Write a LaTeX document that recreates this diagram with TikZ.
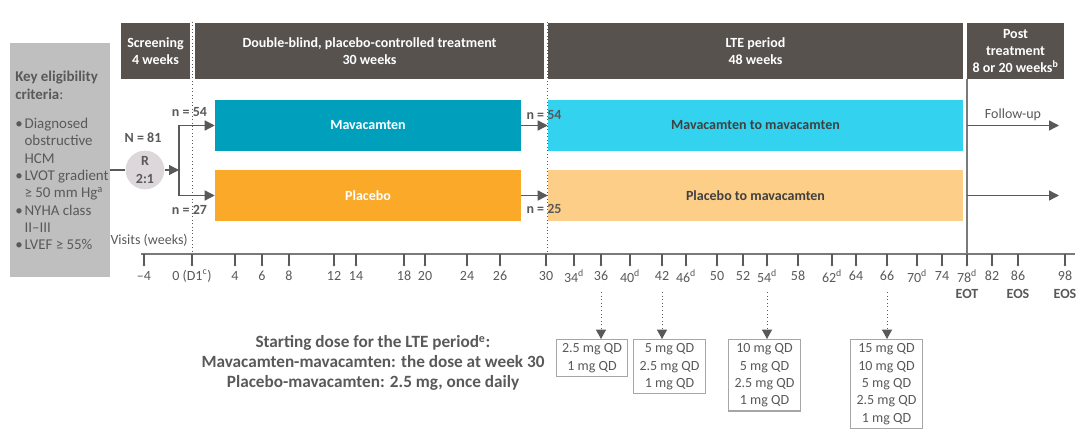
\documentclass[tikz,border=0pt]{standalone}
\usepackage{fontspec}
\setmainfont{Carlito}
\usetikzlibrary{positioning,arrows.meta}

\definecolor{headgrey}{HTML}{58524F}
\definecolor{eliggrey}{HTML}{BFBFBF}
\definecolor{txtgrey}{HTML}{595959}
\definecolor{linegrey}{HTML}{7A7A7A}
\definecolor{mavateal}{HTML}{00A0BD}
\definecolor{placorange}{HTML}{FBA928}
\definecolor{ltecyan}{HTML}{33D3EF}
\definecolor{lteorange}{HTML}{FDCE87}
\definecolor{randfill}{HTML}{DDD6DA}

\newcommand{\fsize}{\fontsize{10.5}{13}\selectfont}
\newcommand{\Bul}{\makebox[7pt][l]{\textbullet}}
\newcommand{\Ind}{\hspace*{7pt}}

\begin{document}
\begin{tikzpicture}
  [x=0.75pt, y=-0.75pt,
    HeadNode/.style={rectangle, fill=headgrey, text=white, font=\fsize\bfseries, align=center, minimum height=42pt, inner sep=0pt},
    ArmNode/.style={rectangle, text=white, font=\fsize\bfseries, minimum height=38.25pt, inner sep=0pt},
    LteNode/.style={rectangle, text=black!75, font=\fsize\bfseries, minimum width=311.25pt, minimum height=38.25pt, inner sep=0pt},
    DoseNode/.style={rectangle, draw=black!35, line width=0.9pt, text=txtgrey, font=\fsize, align=center, minimum width=53.5pt, inner xsep=2pt, inner ysep=3pt, anchor=north},
    NLabel/.style={text=txtgrey, font=\fsize\bfseries, inner sep=0pt},
    AxLabel/.style={text=txtgrey, font=\fsize, inner sep=0pt},
    Arr/.style={draw=txtgrey, line width=1pt, -{Triangle[length=7.5pt,width=7.5pt]}},
    DotArr/.style={draw=txtgrey, line width=0.7pt, dotted, -{Triangle[length=7pt,width=7.5pt]}},
    DotLine/.style={draw=txtgrey, line width=0.6pt, dotted}]
  \useasboundingbox (0,0) rectangle (1080,445);

  % period headers
  \node[HeadNode, minimum width=51.75pt] (screen) at (155.5,51) {Screening\\4 weeks};
  \node[HeadNode, minimum width=261.75pt] (dblind) at (369.5,51) {Double-blind, placebo-controlled treatment\\30 weeks};
  \node[HeadNode, minimum width=311.25pt] (lte) at (755.5,51) {LTE period\\48 weeks};
  \node[HeadNode, minimum width=72.75pt] (post) at (1015.5,51) {Post\\treatment\\8 or 20 weeks\textsuperscript{b}};

  % eligibility
  \node[rectangle, fill=eliggrey, minimum width=75pt, minimum height=175.5pt, inner sep=0pt] (elig) at (60,160) {};
  \node[anchor=north west, text=txtgrey, font=\fontsize{11.2}{13}\selectfont, align=left, inner sep=0pt] (crit) at (15,71)
    {\textbf{Key eligibility}\\ \textbf{criteria}:\\[9pt]
     \Bul Diagnosed\\ \Ind obstructive\\ \Ind HCM\\
     \Bul LVOT gradient\\ \Ind ≥ 50 mm Hg\textsuperscript{a}\\
     \Bul NYHA class\\ \Ind II–III\\
     \Bul LVEF ≥ 55\%};

  % randomisation
  \node[circle, fill=randfill, text=txtgrey, font=\fsize\bfseries, align=center, minimum size=29pt, inner sep=0pt] (rand) at (145,170) {R\\2:1};
  \node[NLabel] (ntot) at (143,138) {N = 81};
  \coordinate (split) at (179,170);

  % treatment arms
  \node[ArmNode, fill=mavateal, minimum width=229.5pt] (mava) at (368,125.5) {Mavacamten};
  \node[ArmNode, fill=placorange, minimum width=229.5pt] (plac) at (368,195.5) {Placebo};
  \node[LteNode, fill=ltecyan] (mavalte) at (755.5,125.5) {Mavacamten to mavacamten};
  \node[LteNode, fill=lteorange] (placlte) at (755.5,195.5) {Placebo to mavacamten};

  \node[NLabel] (nmava) at (189.5,112) {n = 54};
  \node[NLabel] (nplac) at (189.5,210) {n = 27};
  \node[NLabel] (nmavalte) at (544,115) {n = 54};
  \node[NLabel] (nplaclte) at (544,209) {n = 25};

  \draw[draw=txtgrey, line width=1pt] (elig.east |- rand) -- (rand);
  \draw[Arr] (rand) -- (split);
  \draw[Arr] (split) |- (mava.west);
  \draw[Arr] (split) |- (plac.west);
  \draw[Arr] (mava) -- (mavalte);
  \draw[Arr] (plac) -- (placlte);

  % end of treatment and follow-up
  \coordinate (endtop) at (967,79);
  \coordinate (endbot) at (967,254);
  \coordinate (fuend1) at (1059,125.5);
  \coordinate (fuend2) at (1059,195.5);
  \draw[draw=linegrey, line width=1pt] (endtop) -- (endbot);
  \draw[Arr] (endtop |- fuend1) -- (fuend1);
  \draw[Arr] (endtop |- fuend2) -- (fuend2);
  \node[AxLabel] (fu) at (1013,115) {Follow-up};

  % phase boundaries
  \draw[DotLine] (192,22) -- (192,254);
  \draw[DotLine] (547,22) -- (547,254);

  % visits axis
  \node[AxLabel, anchor=east] (visits) at (188,240) {Visits (weeks)};
  \draw[draw=linegrey, line width=1pt] (141,254) -- (1075,254);
  \foreach \xx/\lab in {144/{–4}, 192/{0 (D1\textsuperscript{c})}, 235/4, 262/6, 289/8, 334/12, 356/14,
      404/18, 425/20, 467/24, 500/26, 546/30, 574/{34\textsuperscript{d}}, 601/36,
      630/{40\textsuperscript{d}}, 662/42, 686/{46\textsuperscript{d}}, 717/50, 743/52,
      767/{54\textsuperscript{d}}, 798/58, 832/{62\textsuperscript{d}}, 856/64, 887/66,
      917/{70\textsuperscript{d}}, 942/74, 967/{78\textsuperscript{d}}, 992/82, 1018/86, 1065/98}
  {
    \draw[draw=txtgrey, line width=0.8pt] (\xx,254) -- (\xx,265);
    \fill[txtgrey] (\xx,265) circle (1.3);
    \node[AxLabel] (lab\xx) at (\xx,276) {\lab};
  }
  \node[NLabel] (eot) at (967,294) {EOT};
  \node[NLabel] (eos1) at (1018,294) {EOS};
  \node[NLabel] (eos2) at (1065,294) {EOS};

  % titration doses
  \node[DoseNode] (dose36) at (592,339) {2.5 mg QD\\1 mg QD};
  \node[DoseNode] (dose42) at (669.5,339) {5 mg QD\\2.5 mg QD\\1 mg QD};
  \node[DoseNode] (dose54) at (764.5,339) {10 mg QD\\5 mg QD\\2.5 mg QD\\1 mg QD};
  \node[DoseNode] (dose66) at (886.5,339) {15 mg QD\\10 mg QD\\5 mg QD\\2.5 mg QD\\1 mg QD};
  \foreach \xx/\dd in {601/36, 662/42, 767/54, 887/66}
  {
    \coordinate (drop\dd) at (\xx,292);
    \draw[DotArr] (drop\dd) -- (drop\dd |- dose\dd.north);
  }

  \node[align=center, text=txtgrey, font=\fontsize{12.9}{14.8}\selectfont\bfseries] (start) at (373,363)
    {Starting dose for the LTE period\textsuperscript{e}:\\ Mavacamten-mavacamten: the dose at week 30\\ Placebo-mavacamten: 2.5 mg, once daily};
\end{tikzpicture}
\end{document}
